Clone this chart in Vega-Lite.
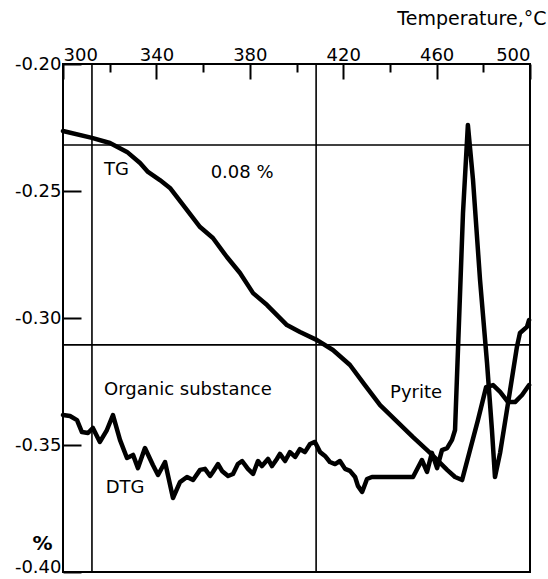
{
  "$schema": "https://vega.github.io/schema/vega-lite/v6.json",
  "width": 467,
  "height": 508,
  "autosize": "none",
  "padding": {"left": 63, "top": 64, "right": 18, "bottom": 7},
  "background": "white",
  "config": {
    "view": {"stroke": "black", "strokeWidth": 2},
    "font": "DejaVu Sans"
  },
  "datasets": {
    "curves": [
      {"series": "TG", "t": 300.0, "v": -0.2264},
      {"series": "TG", "t": 312.4, "v": -0.2291},
      {"series": "TG", "t": 320.1, "v": -0.2311},
      {"series": "TG", "t": 327.4, "v": -0.2346},
      {"series": "TG", "t": 333.0, "v": -0.2390},
      {"series": "TG", "t": 336.4, "v": -0.2425},
      {"series": "TG", "t": 341.5, "v": -0.2457},
      {"series": "TG", "t": 345.8, "v": -0.2488},
      {"series": "TG", "t": 351.4, "v": -0.2555},
      {"series": "TG", "t": 358.7, "v": -0.2642},
      {"series": "TG", "t": 364.2, "v": -0.2685},
      {"series": "TG", "t": 370.2, "v": -0.2760},
      {"series": "TG", "t": 375.8, "v": -0.2823},
      {"series": "TG", "t": 381.4, "v": -0.2902},
      {"series": "TG", "t": 387.4, "v": -0.2949},
      {"series": "TG", "t": 395.9, "v": -0.3028},
      {"series": "TG", "t": 401.5, "v": -0.3055},
      {"series": "TG", "t": 408.8, "v": -0.3087},
      {"series": "TG", "t": 415.6, "v": -0.3126},
      {"series": "TG", "t": 422.9, "v": -0.3185},
      {"series": "TG", "t": 429.3, "v": -0.3264},
      {"series": "TG", "t": 435.8, "v": -0.3343},
      {"series": "TG", "t": 449.9, "v": -0.3469},
      {"series": "TG", "t": 457.2, "v": -0.3531},
      {"series": "TG", "t": 464.5, "v": -0.3598},
      {"series": "TG", "t": 467.9, "v": -0.3626},
      {"series": "TG", "t": 470.9, "v": -0.3638},
      {"series": "TG", "t": 474.3, "v": -0.3520},
      {"series": "TG", "t": 477.7, "v": -0.3402},
      {"series": "TG", "t": 481.2, "v": -0.3272},
      {"series": "TG", "t": 484.2, "v": -0.3264},
      {"series": "TG", "t": 487.2, "v": -0.3291},
      {"series": "TG", "t": 490.6, "v": -0.3331},
      {"series": "TG", "t": 493.6, "v": -0.3331},
      {"series": "TG", "t": 496.6, "v": -0.3303},
      {"series": "TG", "t": 499.6, "v": -0.3264},
      {"series": "DTG", "t": 300.0, "v": -0.3382},
      {"series": "DTG", "t": 303.0, "v": -0.3386},
      {"series": "DTG", "t": 306.0, "v": -0.3402},
      {"series": "DTG", "t": 308.1, "v": -0.3449},
      {"series": "DTG", "t": 310.7, "v": -0.3453},
      {"series": "DTG", "t": 312.8, "v": -0.3433},
      {"series": "DTG", "t": 315.8, "v": -0.3488},
      {"series": "DTG", "t": 318.8, "v": -0.3441},
      {"series": "DTG", "t": 321.4, "v": -0.3382},
      {"series": "DTG", "t": 324.4, "v": -0.3480},
      {"series": "DTG", "t": 327.4, "v": -0.3551},
      {"series": "DTG", "t": 330.0, "v": -0.3539},
      {"series": "DTG", "t": 332.1, "v": -0.3591},
      {"series": "DTG", "t": 335.1, "v": -0.3512},
      {"series": "DTG", "t": 338.5, "v": -0.3579},
      {"series": "DTG", "t": 340.7, "v": -0.3618},
      {"series": "DTG", "t": 343.7, "v": -0.3567},
      {"series": "DTG", "t": 347.1, "v": -0.3709},
      {"series": "DTG", "t": 350.1, "v": -0.3646},
      {"series": "DTG", "t": 353.1, "v": -0.3626},
      {"series": "DTG", "t": 355.7, "v": -0.3638},
      {"series": "DTG", "t": 358.7, "v": -0.3598},
      {"series": "DTG", "t": 360.8, "v": -0.3594},
      {"series": "DTG", "t": 363.0, "v": -0.3622},
      {"series": "DTG", "t": 364.2, "v": -0.3606},
      {"series": "DTG", "t": 366.4, "v": -0.3575},
      {"series": "DTG", "t": 368.1, "v": -0.3602},
      {"series": "DTG", "t": 370.7, "v": -0.3622},
      {"series": "DTG", "t": 372.8, "v": -0.3614},
      {"series": "DTG", "t": 374.9, "v": -0.3575},
      {"series": "DTG", "t": 376.7, "v": -0.3563},
      {"series": "DTG", "t": 379.2, "v": -0.3594},
      {"series": "DTG", "t": 381.4, "v": -0.3614},
      {"series": "DTG", "t": 383.5, "v": -0.3563},
      {"series": "DTG", "t": 385.2, "v": -0.3583},
      {"series": "DTG", "t": 387.8, "v": -0.3555},
      {"series": "DTG", "t": 389.5, "v": -0.3583},
      {"series": "DTG", "t": 391.6, "v": -0.3555},
      {"series": "DTG", "t": 392.9, "v": -0.3535},
      {"series": "DTG", "t": 395.1, "v": -0.3563},
      {"series": "DTG", "t": 397.2, "v": -0.3528},
      {"series": "DTG", "t": 399.4, "v": -0.3547},
      {"series": "DTG", "t": 401.5, "v": -0.3516},
      {"series": "DTG", "t": 403.6, "v": -0.3528},
      {"series": "DTG", "t": 405.8, "v": -0.3496},
      {"series": "DTG", "t": 407.9, "v": -0.3488},
      {"series": "DTG", "t": 410.1, "v": -0.3528},
      {"series": "DTG", "t": 412.2, "v": -0.3543},
      {"series": "DTG", "t": 414.3, "v": -0.3567},
      {"series": "DTG", "t": 416.5, "v": -0.3575},
      {"series": "DTG", "t": 418.6, "v": -0.3563},
      {"series": "DTG", "t": 420.8, "v": -0.3594},
      {"series": "DTG", "t": 422.9, "v": -0.3602},
      {"series": "DTG", "t": 425.1, "v": -0.3626},
      {"series": "DTG", "t": 426.3, "v": -0.3661},
      {"series": "DTG", "t": 428.1, "v": -0.3685},
      {"series": "DTG", "t": 430.2, "v": -0.3634},
      {"series": "DTG", "t": 432.3, "v": -0.3626},
      {"series": "DTG", "t": 449.9, "v": -0.3626},
      {"series": "DTG", "t": 453.7, "v": -0.3559},
      {"series": "DTG", "t": 455.9, "v": -0.3606},
      {"series": "DTG", "t": 458.0, "v": -0.3531},
      {"series": "DTG", "t": 460.2, "v": -0.3591},
      {"series": "DTG", "t": 462.3, "v": -0.3520},
      {"series": "DTG", "t": 464.5, "v": -0.3512},
      {"series": "DTG", "t": 466.6, "v": -0.3480},
      {"series": "DTG", "t": 467.9, "v": -0.3441},
      {"series": "DTG", "t": 469.2, "v": -0.3114},
      {"series": "DTG", "t": 471.3, "v": -0.2587},
      {"series": "DTG", "t": 473.4, "v": -0.2240},
      {"series": "DTG", "t": 475.6, "v": -0.2457},
      {"series": "DTG", "t": 478.6, "v": -0.2850},
      {"series": "DTG", "t": 481.6, "v": -0.3177},
      {"series": "DTG", "t": 483.7, "v": -0.3441},
      {"series": "DTG", "t": 485.0, "v": -0.3626},
      {"series": "DTG", "t": 487.2, "v": -0.3531},
      {"series": "DTG", "t": 490.6, "v": -0.3335},
      {"series": "DTG", "t": 494.4, "v": -0.3114},
      {"series": "DTG", "t": 495.7, "v": -0.3059},
      {"series": "DTG", "t": 498.7, "v": -0.3035},
      {"series": "DTG", "t": 499.6, "v": -0.3008}
    ],
    "vlines": [{"t": 312.4}, {"t": 408.4}],
    "hlines": [{"v": -0.2319}, {"v": -0.3106}],
    "labels": [
      {"text": "TG", "t": 322.9, "v": -0.2417},
      {"text": "0.08 %", "t": 376.7, "v": -0.2429},
      {"text": "Organic substance", "t": 353.5, "v": -0.3283},
      {"text": "Pyrite", "t": 451.2, "v": -0.3295},
      {"text": "DTG", "t": 326.6, "v": -0.3670}
    ]
  },
  "layer": [
    {
      "data": {"name": "curves"},
      "mark": {"type": "line", "color": "black", "strokeWidth": 4.5, "strokeJoin": "round", "strokeCap": "round"},
      "encoding": {
        "x": {
          "field": "t", "type": "quantitative",
          "scale": {"domain": [300, 500], "nice": false, "zero": false},
          "axis": {
            "orient": "top",
            "values": [300, 320, 340, 360, 380, 400, 420, 440, 460, 480, 500],
            "labelExpr": "(datum.value - 300) % 40 == 0 ? datum.label : ''",
            "tickSize": {"condition": {"test": "(datum.value - 300) % 40 == 0", "value": -15}, "value": -8},
            "tickColor": "black", "tickWidth": 2,
            "domain": false, "grid": false,
            "labelFont": "DejaVu Sans", "labelFontSize": 18, "labelColor": "black",
            "labelPadding": 15,
            "title": "Temperature,°C",
            "titleFont": "DejaVu Sans", "titleFontSize": 19, "titleFontWeight": "normal", "titleColor": "black",
            "titleAnchor": "end", "titleAlign": "right", "titleX": 483, "titleY": -40, "titleBaseline": "alphabetic"
          }
        },
        "y": {
          "field": "v", "type": "quantitative",
          "scale": {"domain": [-0.40, -0.20], "nice": false, "zero": false},
          "axis": {
            "orient": "left",
            "values": [-0.20, -0.25, -0.30, -0.35, -0.40],
            "labelExpr": "'-' + format(-datum.value, '.2f')",
            "tickSize": -18, "tickColor": "black", "tickWidth": 2,
            "domain": false, "grid": false,
            "labelFont": "DejaVu Sans", "labelFontSize": 18, "labelColor": "black",
            "labelPadding": 20,
            "labelBaseline": {"condition": {"test": "datum.value < -0.39", "value": "alphabetic"}, "value": "middle"},
            "title": "%",
            "titleAngle": 0, "titleFont": "DejaVu Sans", "titleFontSize": 20, "titleFontWeight": "bold", "titleColor": "black",
            "titleX": -21, "titleY": 479, "titleAlign": "center", "titleBaseline": "middle"
          }
        },
        "detail": {"field": "series"},
        "order": {"field": "t", "type": "quantitative"}
      }
    },
    {
      "data": {"name": "vlines"},
      "mark": {"type": "rule", "color": "black", "strokeWidth": 1.6},
      "encoding": {"x": {"field": "t", "type": "quantitative"}}
    },
    {
      "data": {"name": "hlines"},
      "mark": {"type": "rule", "color": "black", "strokeWidth": 1.6},
      "encoding": {"y": {"field": "v", "type": "quantitative"}}
    },
    {
      "data": {"name": "labels"},
      "mark": {"type": "text", "font": "DejaVu Sans", "fontSize": 18, "color": "black", "align": "center", "baseline": "middle"},
      "encoding": {
        "x": {"field": "t", "type": "quantitative"},
        "y": {"field": "v", "type": "quantitative"},
        "text": {"field": "text"}
      }
    }
  ]
}
